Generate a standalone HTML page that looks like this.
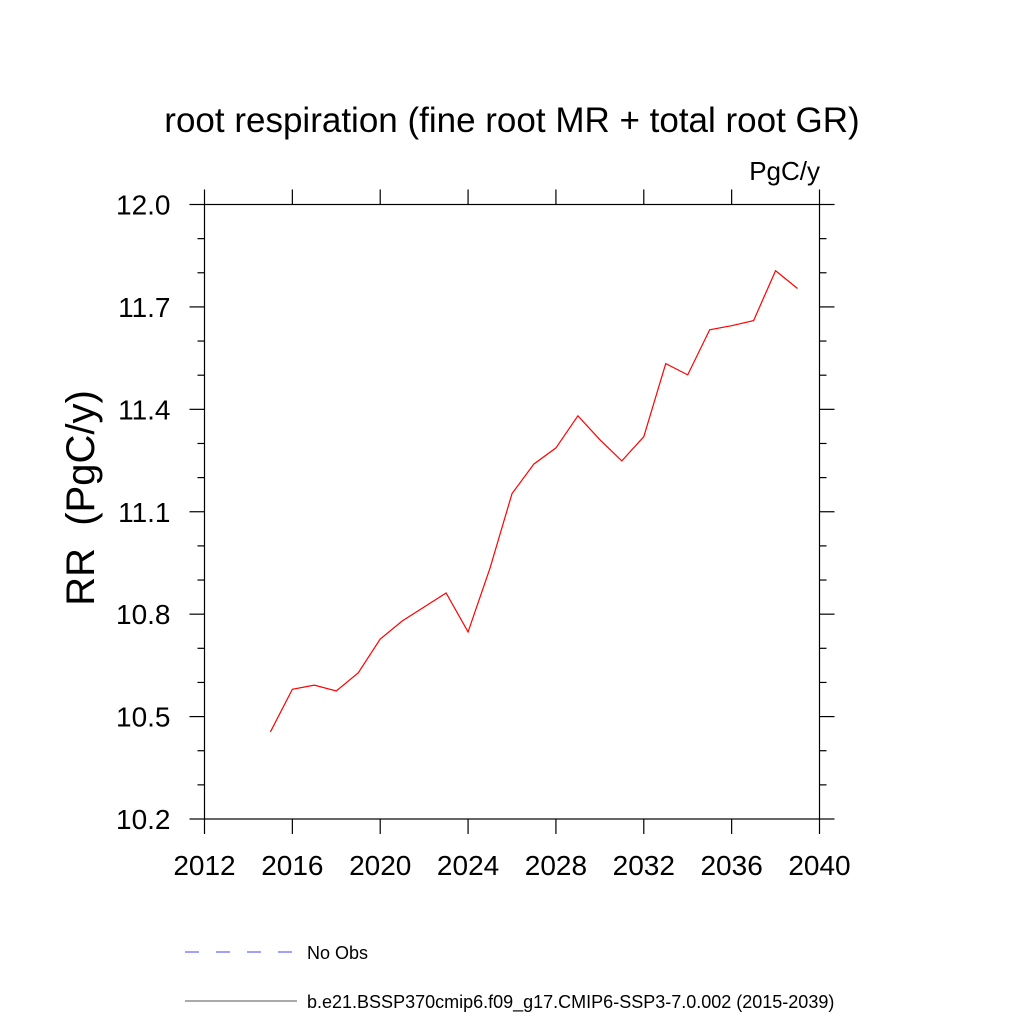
<!DOCTYPE html>
<html><head><meta charset="utf-8"><style>
body{margin:0;background:#fff;}
svg{display:block;font-family:"Liberation Sans",sans-serif;}
</style></head><body>
<svg id="c" width="1024" height="1024" viewBox="0 0 1024 1024">
<text x="512" y="132" text-anchor="middle" font-size="35">root respiration (fine root MR + total root GR)</text>
<text x="820" y="180" text-anchor="end" font-size="26">PgC/y</text>
<text transform="translate(94,498) rotate(-90)" text-anchor="middle" font-size="40" style="white-space:pre">RR  (PgC/y)</text>
<rect x="204.5" y="204.5" width="615" height="614.5" fill="none" stroke="#000" stroke-width="1.2"/>
<g id="ticks"></g>
<polyline id="line" fill="none" stroke="#ff0000" stroke-width="1.2"/>
<line x1="185" y1="952" x2="295" y2="952" stroke="#4040ff" stroke-width="1" stroke-dasharray="14,17"/>
<text x="307" y="959" font-size="18">No Obs</text>
<line x1="185" y1="1001" x2="297" y2="1001" stroke="#555" stroke-width="1"/>
<text x="307" y="1008" font-size="18">b.e21.BSSP370cmip6.f09_g17.CMIP6-SSP3-7.0.002 (2015-2039)</text>
</svg>
<script>
const years=[2015,2016,2017,2018,2019,2020,2021,2022,2023,2024,2025,2026,2027,2028,2029,2030,2031,2032,2033,2034,2035,2036,2037,2038,2039];
const values=[10.455,10.58,10.592,10.575,10.628,10.727,10.78,10.821,10.862,10.748,10.935,11.153,11.24,11.287,11.381,11.311,11.249,11.32,11.534,11.501,11.633,11.645,11.66,11.806,11.754];
const xTicks=[2012,2016,2020,2024,2028,2032,2036,2040];
const yTicks=[10.2,10.5,10.8,11.1,11.4,11.7,12.0];
const yMinor=[10.3,10.4,10.6,10.7,10.9,11.0,11.2,11.3,11.5,11.6,11.8,11.9];
const X0=204.5,X1=819.5,Y0=819,Y1=204.5;
const sx=v=>X0+(v-2012)/(2040-2012)*(X1-X0);
const sy=v=>Y0-(v-10.2)/(12.0-10.2)*(Y0-Y1);
const NS="http://www.w3.org/2000/svg";
const g=document.getElementById('ticks');
function ln(x1,y1,x2,y2,name){const l=document.createElementNS(NS,'line');
l.setAttribute('x1',x1);l.setAttribute('y1',y1);l.setAttribute('x2',x2);l.setAttribute('y2',y2);
l.setAttribute('stroke','#000');l.setAttribute('stroke-width','1.2');


g.appendChild(l);}
function tx(x,y,s,anchor,name){const t=document.createElementNS(NS,'text');
t.setAttribute('x',x);t.setAttribute('y',y);t.setAttribute('text-anchor',anchor);t.setAttribute('font-size','28');t.textContent=s;


g.appendChild(t);}
xTicks.forEach(v=>{const x=sx(v);ln(x,Y0,x,Y0+15,'x-tick');ln(x,Y1,x,Y1-15,'x-tick-top');tx(x,Y0+56,String(v),'middle','x-tick-label');});
yTicks.forEach(v=>{const y=sy(v);ln(X0,y,X0-15,y,'y-tick');ln(X1,y,X1+15,y,'y-tick-right');tx(X0-34,y+10,v.toFixed(1),'end','y-tick-label');});
yMinor.forEach(v=>{const y=sy(v);ln(X0,y,X0-7,y,'y-minor-tick');ln(X1,y,X1+7,y,'y-minor-tick-right');});
document.getElementById('line').setAttribute('points',years.map((y,i)=>sx(y)+','+sy(values[i])).join(' '));
</script>
</body></html>
